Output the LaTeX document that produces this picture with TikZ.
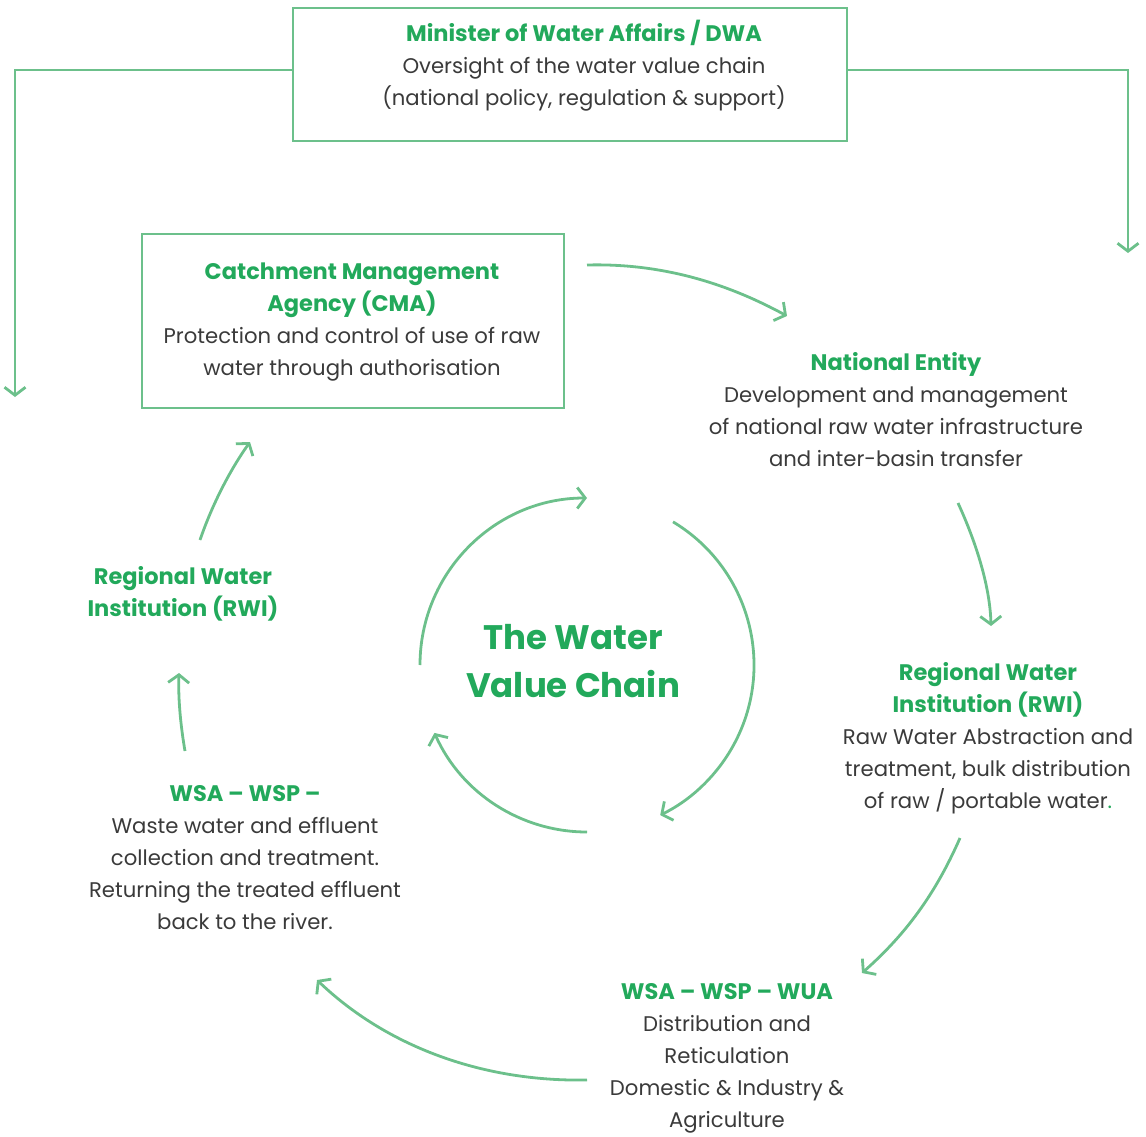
\documentclass[tikz,border=0pt]{standalone}
\usepackage{fontspec}
\setmainfont{Poppins}
\usetikzlibrary{arrows.meta}
\definecolor{lgreen}{HTML}{6CC08B}
\definecolor{hgreen}{HTML}{22A95B}
\definecolor{tgray}{HTML}{3A3A3A}
\newcommand\hd[1]{{\fontsize{22.5}{32}\selectfont\bfseries\color{hgreen}#1}}
\newcommand\bodyfont{\fontsize{21.2}{32}\selectfont}
\tikzset{
  gline/.style={draw=lgreen, line width=2.8pt},
  arr/.style={gline, -{Straight Barb[length=8pt,width=21pt]}},
  box/.style={draw=lgreen, line width=2.8pt, inner sep=0pt},
  txt/.style={align=center, text=tgray, font=\bodyfont, inner sep=0pt},
  title/.style={align=center, text=hgreen, font=\bfseries\fontsize{34}{48}\selectfont, inner sep=0pt}
}
\begin{document}
\begin{tikzpicture}[x=1pt,y=1pt]
\useasboundingbox (0,0) rectangle (1146,-1137);
% boxes
\node[box, minimum width=554pt, minimum height=133pt] (dwabox) at (570,-74.5) {};
\node[txt] (dwa) at (584,-66) {\hd{Minister of Water Affairs / DWA}\\Oversight of the water value chain\\(national policy, regulation \& support)};
\node[box, minimum width=422pt, minimum height=174pt] (cmabox) at (353,-321) {};
\node[txt] (cma) at (352,-322) {\hd{Catchment Management}\\\hd{Agency (CMA)}\\Protection and control of use of raw\\water through authorisation};
% text nodes
\node[txt] (ne) at (896,-410) {\hd{National Entity}\\Development and management\\of national raw water infrastructure\\and inter-basin transfer};
\node[txt] (rwir) at (988,-738) {\hd{Regional Water}\\\hd{Institution (RWI)}\\Raw Water Abstraction and\\treatment, bulk distribution\\of raw / portable water{\color{hgreen}.}};
\node[txt] (wua) at (727,-1058) {\hd{WSA -- WSP -- WUA}\\Distribution and\\Reticulation\\Domestic \& Industry \&\\Agriculture};
\node[txt] (wsal) at (245,-858) {\hd{WSA -- WSP --}\\Waste water and effluent\\collection and treatment.\\Returning the treated effluent\\back to the river.};
\node[txt] (rwil) at (183,-594) {\hd{Regional Water}\\\hd{Institution (RWI)}};
\node[title] (vc) at (573,-661) {The Water\\Value Chain};
% top connectors
\coordinate (dl) at (15,-397);
\coordinate (dr) at (1128,-253);
\draw[arr] ([yshift=4.5pt]dwabox.west) -| (dl);
\draw[arr] ([yshift=4.5pt]dwabox.east) -| (dr);
% flow connectors
\coordinate (a1s) at (587,-265); \coordinate (a1e) at (787,-316);
\draw[arr] (a1s) .. controls (665,-263) and (730,-285) .. (a1e);
\coordinate (a2s) at (958,-503); \coordinate (a2e) at (991,-626);
\draw[arr] (a2s) .. controls (975,-540) and (990,-585) .. (a2e);
\coordinate (a3s) at (960,-838); \coordinate (a3e) at (862,-973);
\draw[arr] (a3s) .. controls (935,-895) and (905,-935) .. (a3e);
\coordinate (a4s) at (587,-1080); \coordinate (a4e) at (317,-980);
\draw[arr] (a4s) .. controls (480,-1082) and (385,-1045) .. (a4e);
\coordinate (a5s) at (185,-751); \coordinate (a5e) at (179,-673);
\draw[arr] (a5s) .. controls (181,-728) and (178,-700) .. (a5e);
\coordinate (a6s) at (200,-540); \coordinate (a6e) at (250,-442);
\draw[arr] (a6s) .. controls (212,-505) and (230,-470) .. (a6e);
% central cycle
\coordinate (cc) at (587,-665);
\draw[arr] (cc) ++(180:167) arc[start angle=180, end angle=90, radius=167];
\draw[arr] (cc) ++(59:167) arc[start angle=59, end angle=-64, radius=167];
\draw[arr] (cc) ++(-90:167) arc[start angle=-90, end angle=-156, radius=167];
\end{tikzpicture}
\end{document}
